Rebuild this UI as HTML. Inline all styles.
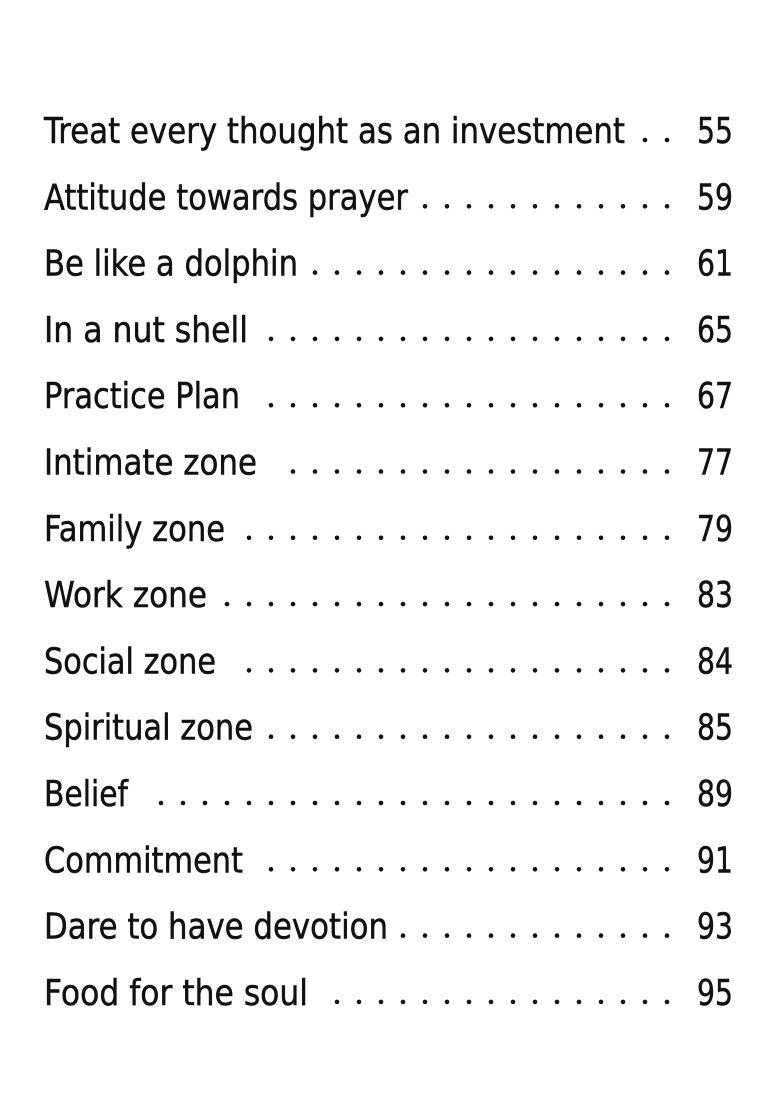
<!DOCTYPE html>
<html><head><meta charset="utf-8"><style>
html,body{margin:0;padding:0;background:#fff;}
svg{display:block;}
text{font-family:"DejaVu Sans","Liberation Sans",sans-serif;font-size:36px;fill:#111;stroke:#111;stroke-width:0.5px;}
</style></head><body>
<svg width="780" height="1108" viewBox="0 0 780 1108" xmlns="http://www.w3.org/2000/svg">
<defs>
<pattern id="d" patternUnits="userSpaceOnUse" x="0" y="0" width="22" height="1108">
<circle cx="7" cy="140" r="2.3" fill="#111"/><circle cx="7" cy="206.3" r="2.3" fill="#111"/>
<circle cx="7" cy="272.6" r="2.3" fill="#111"/><circle cx="7" cy="338.9" r="2.3" fill="#111"/>
<circle cx="7" cy="405.2" r="2.3" fill="#111"/><circle cx="7" cy="471.5" r="2.3" fill="#111"/>
<circle cx="7" cy="537.8" r="2.3" fill="#111"/><circle cx="7" cy="604.1" r="2.3" fill="#111"/>
<circle cx="7" cy="670.4" r="2.3" fill="#111"/><circle cx="7" cy="736.7" r="2.3" fill="#111"/>
<circle cx="7" cy="803" r="2.3" fill="#111"/><circle cx="7" cy="869.3" r="2.3" fill="#111"/>
<circle cx="7" cy="935.6" r="2.3" fill="#111"/><circle cx="7" cy="1001.9" r="2.3" fill="#111"/>
</pattern>
</defs>
<g fill="url(#d)">
<rect x="640" y="132" width="30" height="14"/>
<rect x="420" y="198.3" width="250" height="14"/>
<rect x="310" y="264.6" width="360" height="14"/>
<rect x="266" y="330.9" width="404" height="14"/>
<rect x="266" y="397.2" width="404" height="14"/>
<rect x="288" y="463.5" width="382" height="14"/>
<rect x="244" y="529.8" width="426" height="14"/>
<rect x="222" y="596.1" width="448" height="14"/>
<rect x="244" y="662.4" width="426" height="14"/>
<rect x="266" y="728.7" width="404" height="14"/>
<rect x="156" y="795" width="514" height="14"/>
<rect x="266" y="861.3" width="404" height="14"/>
<rect x="398" y="927.6" width="272" height="14"/>
<rect x="332" y="993.9" width="338" height="14"/>
</g>
<g>
<text x="44" y="143" textLength="581" lengthAdjust="spacingAndGlyphs">Treat every thought as an investment</text>
<text x="44" y="209.3" textLength="364" lengthAdjust="spacingAndGlyphs">Attitude towards prayer</text>
<text x="44" y="275.6" textLength="254" lengthAdjust="spacingAndGlyphs">Be like a dolphin</text>
<text x="44" y="341.9" textLength="204" lengthAdjust="spacingAndGlyphs">In a nut shell</text>
<text x="44" y="408.2" textLength="196" lengthAdjust="spacingAndGlyphs">Practice Plan</text>
<text x="44" y="474.5" textLength="213" lengthAdjust="spacingAndGlyphs">Intimate zone</text>
<text x="44" y="540.8" textLength="181" lengthAdjust="spacingAndGlyphs">Family zone</text>
<text x="44" y="607.1" textLength="163" lengthAdjust="spacingAndGlyphs">Work zone</text>
<text x="44" y="673.4" textLength="172" lengthAdjust="spacingAndGlyphs">Social zone</text>
<text x="44" y="739.7" textLength="209" lengthAdjust="spacingAndGlyphs">Spiritual zone</text>
<text x="44" y="806" textLength="84" lengthAdjust="spacingAndGlyphs">Belief</text>
<text x="44" y="872.3" textLength="199" lengthAdjust="spacingAndGlyphs">Commitment</text>
<text x="44" y="938.6" textLength="344" lengthAdjust="spacingAndGlyphs">Dare to have devotion</text>
<text x="44" y="1004.9" textLength="264" lengthAdjust="spacingAndGlyphs">Food for the soul</text>
</g>
<g>
<text x="697" y="143" textLength="36" lengthAdjust="spacingAndGlyphs">55</text>
<text x="697" y="209.3" textLength="36" lengthAdjust="spacingAndGlyphs">59</text>
<text x="697" y="275.6" textLength="36" lengthAdjust="spacingAndGlyphs">61</text>
<text x="697" y="341.9" textLength="36" lengthAdjust="spacingAndGlyphs">65</text>
<text x="697" y="408.2" textLength="36" lengthAdjust="spacingAndGlyphs">67</text>
<text x="697" y="474.5" textLength="36" lengthAdjust="spacingAndGlyphs">77</text>
<text x="697" y="540.8" textLength="36" lengthAdjust="spacingAndGlyphs">79</text>
<text x="697" y="607.1" textLength="36" lengthAdjust="spacingAndGlyphs">83</text>
<text x="697" y="673.4" textLength="36" lengthAdjust="spacingAndGlyphs">84</text>
<text x="697" y="739.7" textLength="36" lengthAdjust="spacingAndGlyphs">85</text>
<text x="697" y="806" textLength="36" lengthAdjust="spacingAndGlyphs">89</text>
<text x="697" y="872.3" textLength="36" lengthAdjust="spacingAndGlyphs">91</text>
<text x="697" y="938.6" textLength="36" lengthAdjust="spacingAndGlyphs">93</text>
<text x="697" y="1004.9" textLength="36" lengthAdjust="spacingAndGlyphs">95</text>
</g>
</svg>
</body></html>
